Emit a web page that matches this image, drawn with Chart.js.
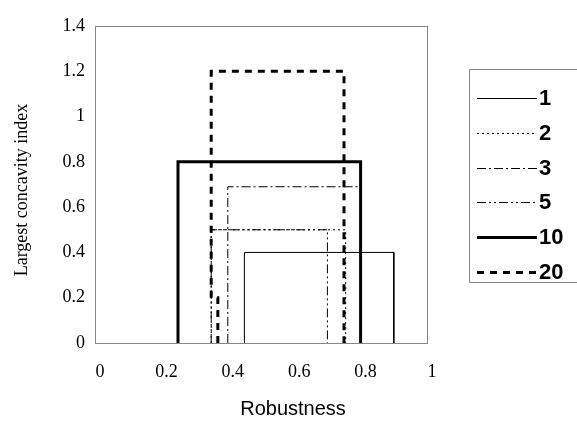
<!DOCTYPE html>
<html>
<head>
<meta charset="utf-8">
<script src="https://cdn.jsdelivr.net/npm/chart.js@4.4.0/dist/chart.umd.min.js"></script>
<style>
  html, body { margin: 0; padding: 0; background: #fff; }
  #wrap { width: 577px; height: 421px; }
</style>
</head>
<body>
<div id="wrap"><canvas id="c"></canvas></div>
<script>
// series names (legend) and their outline points
const seriesNames = ['1', '2', '3', '5', '10', '20']

const s1x = [0.45, 0.45, 0.90, 0.90]
const s1y = [0, 0.4, 0.4, 0]
const s2x = [0.35, 0.35, 0.755, 0.755]
const s2y = [0, 0.5, 0.5, 0]
const s3x = [0.40, 0.40, 0.80, 0.80]
const s3y = [0, 0.69, 0.69, 0]
const s5x = [0.35, 0.35, 0.70, 0.70]
const s5y = [0, 0.5, 0.5, 0]
const s10x = [0.25, 0.25, 0.80, 0.80]
const s10y = [0, 0.8, 0.8, 0]
const s20x = [0.37, 0.37, 0.35, 0.35, 0.75, 0.75]
const s20y = [0, 0.2, 0.2, 1.2, 1.2, 0]

const xTickLabels = ['0', '0.2', '0.4', '0.6', '0.8', '1']
const yTickLabels = ['0', '0.2', '0.4', '0.6', '0.8', '1', '1.2', '1.4']
const xTitle = 'Robustness'
const yTitle = 'Largest concavity index'

const pts = (xs, ys) => xs.map((x, i) => ({ x: x, y: ys[i] }))

const styles = [
  { width: 1, dash: [] },
  { width: 1, dash: [2, 3] },
  { width: 1, dash: [9, 3, 2, 3] },
  { width: 1, dash: [9, 3, 2, 3, 2, 3] },
  { width: 3, dash: [] },
  { width: 3, dash: [7, 6] }
]
const allPts = [pts(s1x, s1y), pts(s2x, s2y), pts(s3x, s3y), pts(s5x, s5y), pts(s10x, s10y), pts(s20x, s20y)]

const datasets = seriesNames.map((name, i) => ({
  label: name,
  data: allPts[i],
  showLine: true,
  borderColor: '#000',
  borderWidth: styles[i].width,
  borderDash: styles[i].dash,
  pointRadius: 0,
  tension: 0,
  fill: false
}))

// plot frame, axis titles and boxed legend like the original
const frameAndLegend = {
  id: 'frameAndLegend',
  beforeDatasetsDraw(chart) {
    const { ctx, chartArea: a } = chart
    ctx.save()
    ctx.strokeStyle = '#888'
    ctx.lineWidth = 1
    ctx.strokeRect(a.left + 0.5, a.top + 0.5, a.right - a.left, a.bottom - a.top)
    ctx.restore()
  },
  afterDraw(chart) {
    const ctx = chart.ctx
    ctx.save()
    ctx.fillStyle = '#000'
    ctx.textAlign = 'center'
    ctx.textBaseline = 'middle'
    ctx.font = '20px "Liberation Sans", Arial, sans-serif'
    ctx.fillText(xTitle, 293, 409)
    ctx.save()
    ctx.translate(22, 190)
    ctx.rotate(-Math.PI / 2)
    ctx.font = '18px "Liberation Serif", "Times New Roman", serif'
    ctx.fillText(yTitle, 0, 0)
    ctx.restore()

    ctx.strokeStyle = '#888'
    ctx.lineWidth = 1
    ctx.strokeRect(469.5, 69.5, 130, 213)
    ctx.font = 'bold 22px "Liberation Sans", Arial, sans-serif'
    ctx.textAlign = 'left'
    chart.data.datasets.forEach((ds, i) => {
      const y = 98 + i * 34.8
      const yy = Math.round(y) + (ds.borderWidth % 2 ? 0.5 : 0)
      ctx.beginPath()
      ctx.strokeStyle = '#000'
      ctx.lineWidth = ds.borderWidth
      ctx.setLineDash(ds.borderDash)
      ctx.moveTo(477, yy)
      ctx.lineTo(537, yy)
      ctx.stroke()
      ctx.fillText(ds.label, 539, y + 1)
    })
    ctx.restore()
  }
}

new Chart(document.getElementById('c'), {
  type: 'scatter',
  data: { datasets: datasets },
  plugins: [frameAndLegend],
  options: {
    responsive: true,
    maintainAspectRatio: false,
    animation: false,
    layout: { padding: { left: 0, right: 150, top: 26, bottom: 0 } },
    plugins: { legend: { display: false }, tooltip: { enabled: false } },
    scales: {
      x: {
        type: 'linear',
        min: 0,
        max: 1,
        afterFit: s => { s.height = 78 },
        grid: { display: false, drawTicks: false },
        border: { display: false },
        ticks: {
          stepSize: 0.2,
          padding: 18,
          labelOffset: 5,
          color: '#000',
          font: { family: '"Liberation Serif", "Times New Roman", serif', size: 18 },
          callback: (v, i) => xTickLabels[i]
        }
      },
      y: {
        type: 'linear',
        min: 0,
        max: 1.4,
        afterFit: s => { s.width = 95 },
        grid: { display: false, drawTicks: false },
        border: { display: false },
        ticks: {
          stepSize: 0.2,
          padding: 10,
          color: '#000',
          font: { family: '"Liberation Serif", "Times New Roman", serif', size: 18 },
          callback: (v, i) => yTickLabels[i]
        }
      }
    }
  }
})
</script>
</body>
</html>
